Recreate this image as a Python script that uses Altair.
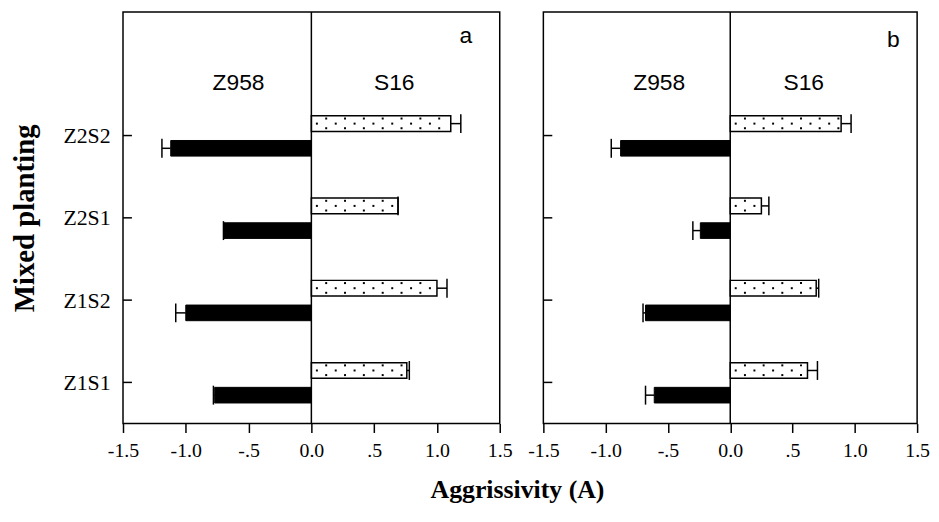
import pandas as pd
import altair as alt

cats = ["Z1S1", "Z1S2", "Z2S1", "Z2S2"]
a_s16 = [0.76, 1.00, 0.69, 1.11]
a_s16_err = [0.02, 0.08, 0.0, 0.08]
a_z958 = [-0.77, -1.00, -0.70, -1.12]
a_z958_err = [0.01, 0.08, 0.0, 0.07]
b_s16 = [0.62, 0.69, 0.25, 0.89]
b_s16_err = [0.08, 0.02, 0.06, 0.08]
b_z958 = [-0.61, -0.68, -0.24, -0.88]
b_z958_err = [0.07, 0.02, 0.06, 0.075]
x_ticks = [-1.5, -1.0, -0.5, 0.0, 0.5, 1.0, 1.5]
x_tick_labels = ["-1.5", "-1.0", "-.5", "0.0", ".5", "1.0", "1.5"]
series_names = ["Z958", "S16"]
panel_letters = ["a", "b"]

SERIF = "Liberation Serif"
SANS = "Liberation Sans"
OFF = {"S16": 0.145, "Z958": -0.155}
HALF = 0.095
CAP = 0.115


def build_frames(s16, s16e, z, ze):
    rows = []
    for i, c in enumerate(cats):
        pos = i + 1
        for name, v, e in (("S16", s16[i], s16e[i]), ("Z958", z[i], ze[i])):
            sgn = 1 if v >= 0 else -1
            ctr = pos + OFF[name]
            rows.append(dict(cat=c, series=name, v=v, zero=0.0, end=v + sgn * e,
                             y=ctr, ylo=ctr - HALF, yhi=ctr + HALF,
                             clo=ctr - CAP, chi=ctr + CAP))
    bars = pd.DataFrame(rows)
    # dot texture for the S16 bars
    dots = []
    for r in rows:
        if r["series"] != "S16":
            continue
        k = 0
        while True:
            xm = 0.044 + 0.15 * k
            if xm < r["v"] - 0.02:
                dots.append(dict(x=xm, y=r["y"]))
            xt = 0.118 + 0.15 * k
            if xt < r["v"] - 0.02:
                dots.append(dict(x=xt, y=r["y"] + 0.062))
                dots.append(dict(x=xt, y=r["y"] - 0.056))
            if xm >= r["v"]:
                break
            k += 1
    return bars, pd.DataFrame(dots)


x_label_expr = "".join(f"datum.value == {v} ? '{l}' : " for v, l in zip(x_ticks, x_tick_labels)) + "''"
y_label_expr = "".join(f"datum.value == {i + 1} ? '{c}' : " for i, c in enumerate(cats)) + "''"


def panel(s16, s16e, z, ze, letter, width, show_y, ann_x, ann_y):
    bars, dots = build_frames(s16, s16e, z, ze)
    xsc = alt.Scale(domain=[-1.5, 1.5], nice=False, zero=False)
    ysc = alt.Scale(domain=[0.5, 5.5], nice=False, zero=False)
    xax = alt.Axis(values=x_ticks, labelExpr=x_label_expr, title=None, grid=False,
                   domain=False, tickSize=9, tickWidth=1.5, tickColor="black",
                   labelFont=SERIF, labelFontSize=20, labelColor="black",
                   labelPadding=8, labelFlush=False, labelOverlap=False)
    if show_y:
        yax = alt.Axis(values=[1, 2, 3, 4], labelExpr=y_label_expr, title="Mixed planting",
                       grid=False, domain=False, ticks=False, labelFont=SERIF,
                       labelFontSize=22, labelColor="black", labelPadding=13,
                       titleFont=SERIF, titleFontSize=29, titleFontWeight="bold",
                       titleColor="black", titlePadding=24)
    else:
        yax = None

    base = alt.Chart(bars)
    zb = base.transform_filter("datum.series == 'Z958'").mark_bar(
        color="black", stroke="black", strokeWidth=1
    ).encode(
        x=alt.X("v:Q", scale=xsc, axis=xax), x2="zero:Q",
        y=alt.Y("ylo:Q", scale=ysc, axis=yax), y2="yhi:Q",
    )
    sb = base.transform_filter("datum.series == 'S16'").mark_bar(
        fill="white", stroke="black", strokeWidth=1.5
    ).encode(x="v:Q", x2="zero:Q", y="ylo:Q", y2="yhi:Q")
    dot = alt.Chart(dots).mark_square(size=4, color="black", opacity=1).encode(
        x="x:Q", y="y:Q")
    err = base.mark_rule(color="black", strokeWidth=1.5).encode(
        x="v:Q", x2="end:Q", y="y:Q")
    cap = base.mark_rule(color="black", strokeWidth=1.5).encode(
        x="end:Q", y="clo:Q", y2="chi:Q")
    zero = alt.Chart(pd.DataFrame({"x": [0.0]})).mark_rule(
        color="black", strokeWidth=1.5).encode(x="x:Q")
    yt = alt.Chart(pd.DataFrame({"p": [1, 2, 3, 4]})).mark_rule(
        color="black", strokeWidth=1.5).encode(
        x=alt.value(0), x2=alt.value(9), y="p:Q")
    ann = pd.DataFrame({
        "t": series_names + [letter],
        "x": ann_x,
        "y": ann_y,
    })
    txt = alt.Chart(ann).mark_text(font=SANS, fontSize=23, color="black",
                                   baseline="alphabetic").encode(
        x="x:Q", y="y:Q", text="t:N")
    return alt.layer(zb, sb, dot, err, cap, zero, yt, txt).properties(
        width=width, height=415)


pa = panel(a_s16, a_s16_err, a_z958, a_z958_err, panel_letters[0], 380, True,
           [-0.58, 0.66, 1.23], [4.55, 4.55, 5.13])
pb = panel(b_s16, b_s16_err, b_z958, b_z958_err, panel_letters[1], 377, False,
           [-0.57, 0.59, 1.31], [4.55, 4.55, 5.08])

chart = alt.hconcat(pa, pb, spacing=44, bounds="flush").properties(
    title=alt.TitleParams("Aggrissivity (A)", orient="bottom", anchor="middle",
                          font=SERIF, fontSize=26, fontWeight="bold", color="black",
                          offset=16, dx=48),
    padding={"left": 1, "top": 0, "right": 0, "bottom": 0},
).configure(background="white").configure_view(stroke="black", strokeWidth=1.5)

chart.save("out.html", embed_options={"renderer": "svg", "actions": False})
